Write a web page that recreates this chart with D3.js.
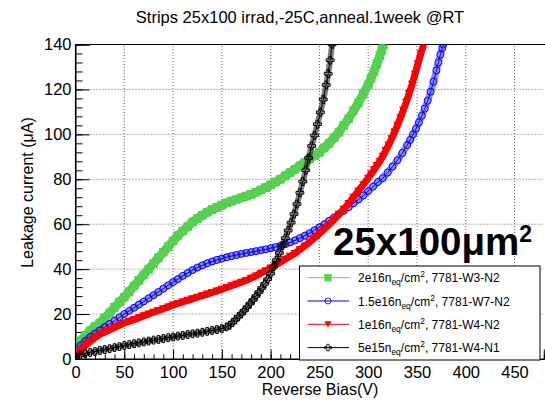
<!DOCTYPE html>
<html>
<head>
<meta charset="utf-8">
<script src="https://cdn.jsdelivr.net/npm/d3@7"></script>
<style>
  body { margin: 0; background: #fff; }
  text { font-family: "Liberation Sans", Arial, sans-serif; }
</style>
</head>
<body>
<div id="chart"></div>
<script>
// Leakage current vs reverse bias, four fluences

const width = 545;
const height = 401;
const margin = {left: 75.5, right: 1.2, top: 44.5, bottom: 42};

// series values: [bias V, current uA]
const green = [[0,4],[5,8],[10,10.5],[15,12.5],[20,14.5],[25,16],[30,18.3],[35,20.5],[40,23],[45,25.3],[50,27.5],[55,30],[60,32.5],[65,35],[70,37.5],[75,40],[80,42.5],[85,45],[90,47.5],[95,50],[100,52.5],[105,55],[110,57],[115,59],[120,61],[125,62.5],[130,64],[135,65.3],[140,66.5],[145,67.5],[150,68.5],[155,69.5],[160,70.3],[165,71],[170,71.8],[175,72.5],[180,73.3],[185,74.2],[190,75.2],[195,76.3],[200,77.5],[205,78.8],[210,80],[215,81.5],[220,83],[225,84.5],[230,86],[235,87.5],[240,89],[245,90.5],[250,92],[255,94],[260,96],[265,98.5],[270,101],[275,104],[280,107],[285,110.5],[290,114],[295,118],[300,122],[303,125],[306,128],[309,131.5],[312,135],[314,137.5],[316,140]];

const blue = [[0,2],[5,6],[10,8],[15,9.8],[20,11.3],[25,12.8],[30,14.2],[35,15.6],[40,17],[45,18.5],[50,20],[55,21.4],[60,22.8],[65,24.2],[70,25.6],[75,27],[80,28.4],[85,29.8],[90,31.3],[95,32.8],[100,34.2],[105,35.6],[110,37],[115,38.3],[120,39.6],[125,40.7],[130,41.7],[135,42.6],[140,43.4],[145,44.1],[150,44.7],[155,45.3],[160,45.8],[165,46.3],[170,46.8],[175,47.2],[180,47.6],[185,48],[190,48.4],[195,48.8],[200,49.3],[205,49.8],[210,50.4],[215,51.1],[220,51.9],[225,52.8],[230,53.8],[235,54.9],[240,56],[245,57.3],[250,58.6],[255,60],[260,61.5],[265,63],[270,64.5],[275,66],[280,67.6],[285,69.3],[290,71],[295,72.8],[300,74.7],[305,76.7],[310,78.8],[315,80.5],[320,83],[325,85.7],[330,88.5],[335,91.7],[340,95.2],[343,97.5],[346,100],[349,102.5],[352,105.3],[355,108.3],[358,111.5],[361,115],[364,119],[367,123.5],[370,128.5],[372,132],[374,135.5],[376,138.5],[377,140]];

const red = [[0,1],[5,4],[10,6],[15,7.8],[20,9.5],[25,11],[30,12],[35,13],[40,14],[45,15],[50,16],[55,16.8],[60,17.6],[65,18.4],[70,19.2],[75,20],[80,20.8],[85,21.6],[90,22.4],[95,23.2],[100,24],[105,24.7],[110,25.4],[115,26.1],[120,26.8],[125,27.5],[130,28.2],[135,28.9],[140,29.6],[145,30.3],[150,31],[155,31.8],[160,32.6],[165,33.4],[170,34.2],[175,35],[180,36],[185,37],[190,38.2],[195,39.3],[200,40.5],[205,41.8],[210,43.1],[215,44.4],[220,45.7],[225,47],[230,48.7],[235,50.3],[240,52],[245,53.9],[250,55.8],[255,57.8],[260,59.8],[265,62],[270,64.4],[275,66.7],[280,69.2],[285,72],[290,74.8],[295,77.6],[300,80.5],[303,82.3],[306,84.2],[309,86.1],[312,88],[315,90.3],[318,92.8],[321,95.3],[324,98],[327,101],[330,104],[333,107.3],[336,110.7],[339,114.3],[342,118.2],[345,122.3],[348,126.8],[351,131.4],[354,136],[357,140]];

const black = [[0,0.5],[5,1.8],[10,2.4],[15,2.9],[20,3.3],[25,3.8],[30,4.2],[35,4.6],[40,5.1],[45,5.5],[50,6],[55,6.4],[60,6.8],[65,7.2],[70,7.6],[75,8],[80,8.4],[85,8.7],[90,9.1],[95,9.5],[100,9.8],[105,10.2],[110,10.5],[115,10.9],[120,11.2],[125,11.5],[130,11.9],[135,12.3],[140,12.7],[145,13.1],[150,13.5],[155,14.3],[158,15],[161,16.2],[164,17.5],[167,18.8],[170,20.2],[173,21.6],[176,23.1],[179,24.7],[182,26.3],[185,28],[188,29.8],[191,31.6],[194,33.5],[197,35.5],[200,38],[203,41],[206,44],[209,47.2],[212,50.5],[215,53.8],[218,57.2],[221,60.7],[224,64.5],[227,69],[230,74],[233,79],[236,84],[239,89.5],[242,94.8],[245,99.5],[248,104.5],[251,109.8],[254,115.5],[257,122],[259,127],[261,133],[263,140]];

const fluences = ["2e16", "1.5e16", "1e16", "5e15"];
const sensors = ["7781-W3-N2", "7781-W7-N2", "7781-W4-N2", "7781-W4-N1"];
const colors = ["#55d04f", "#0000ff", "#ff0000", "#000000"];
const markers = ["square", "circle", "triangle", "cross"];
const series = [green, blue, red, black];
// the dense markers of the original merge into a band
const bandWidth = [9, 7, 7, 6];
const bandOpacity = [1, 0.45, 1, 0.5];

const xTicks = d3.range(0, 451, 50);
const yTicks = d3.range(0, 141, 20);

const svg = d3.select("#chart")
  .append("svg")
  .attr("width", width)
  .attr("height", height);

// scales
const xScale = d3.scaleLinear().domain([0, 480]).range([margin.left, width - margin.right]);
const yScale = d3.scaleLinear().domain([0, 140]).range([height - margin.bottom, margin.top]);

// clip for the plot area
svg.append("clipPath").attr("id", "plotclip")
  .append("rect")
  .attr("x", margin.left).attr("y", margin.top)
  .attr("width", width - margin.right - margin.left)
  .attr("height", height - margin.bottom - margin.top);

// grid
svg.append("g").selectAll("line").data(xTicks.slice(1)).enter().append("line")
  .attr("x1", d => xScale(d)).attr("x2", d => xScale(d))
  .attr("y1", yScale(0)).attr("y2", yScale(140))
  .attr("stroke", "#444").attr("stroke-width", 0.8).attr("stroke-dasharray", "1,2");
svg.append("g").selectAll("line").data(yTicks.slice(1)).enter().append("line")
  .attr("x1", xScale(0)).attr("x2", xScale(480))
  .attr("y1", d => yScale(d)).attr("y2", d => yScale(d))
  .attr("stroke", "#444").attr("stroke-width", 0.8).attr("stroke-dasharray", "1,2");

// top frame line
svg.append("line")
  .attr("x1", xScale(0)).attr("x2", width)
  .attr("y1", yScale(140)).attr("y2", yScale(140))
  .attr("stroke", "#000").attr("stroke-width", 1.2);

// axes (ticks point into the plot)
svg.append("g")
  .attr("transform", `translate(${margin.left},0)`)
  .call(d3.axisLeft(yScale).tickValues(d3.range(0, 141, 4)).tickSize(-7).tickFormat(""))
  .call(g => g.select(".domain").remove());
svg.append("g")
  .attr("transform", `translate(${margin.left},0)`)
  .call(d3.axisLeft(yScale).tickValues(yTicks).tickSize(-14).tickPadding(4))
  .attr("font-size", "16.5px")
  .call(g => g.selectAll("text").attr("font-family", "Liberation Sans, Arial, sans-serif").attr("fill", "#000"));

svg.append("g")
  .attr("transform", `translate(0,${height - margin.bottom})`)
  .call(d3.axisBottom(xScale).tickValues(d3.range(0, 481, 10)).tickSize(-4.7).tickFormat(""))
  .call(g => g.select(".domain").remove());
svg.append("g")
  .attr("transform", `translate(0,${height - margin.bottom})`)
  .call(d3.axisBottom(xScale).tickValues(xTicks).tickSize(-9.5).tickPadding(7))
  .attr("font-size", "16.5px")
  .call(g => g.selectAll("text").attr("font-family", "Liberation Sans, Arial, sans-serif").attr("fill", "#000"));

// marker shapes
function markerPath(kind) {
  if (kind === "square") return "M-4.3,-4.3h8.6v8.6h-8.6z";
  if (kind === "triangle") return "M-4.3,-3.5h8.6l-4.3,7.5z";
  if (kind === "circle") return "M3.5,0A3.5,3.5,0,1,1,-3.5,0A3.5,3.5,0,1,1,3.5,0";
  return "M-1.3,-3.9h2.6v2.6h2.6v2.6h-2.6v2.6h-2.6v-2.6h-2.6v-2.6h2.6z";
}
function markerFill(kind, color) {
  return (kind === "circle" || kind === "cross") ? "none" : color;
}

const line = d3.line().x(d => xScale(d[0])).y(d => yScale(d[1]));

const plot = svg.append("g").attr("clip-path", "url(#plotclip)");
series.forEach((data, i) => {
  const g = plot.append("g");
  g.append("path")
    .datum(data)
    .attr("d", line)
    .attr("fill", "none")
    .attr("stroke", colors[i])
    .attr("stroke-opacity", bandOpacity[i])
    .attr("stroke-linejoin", "round")
    .attr("stroke-width", bandWidth[i]);
  g.append("path")
    .datum(data)
    .attr("d", line)
    .attr("fill", "none")
    .attr("stroke", colors[i])
    .attr("stroke-width", 1);
  g.selectAll(".pt")
    .data(data)
    .enter()
    .append("path")
      .attr("class", "pt")
      .attr("transform", d => `translate(${xScale(d[0])},${yScale(d[1])})`)
      .attr("d", markerPath(markers[i]))
      .attr("fill", markerFill(markers[i], colors[i]))
      .attr("stroke", colors[i])
      .attr("stroke-width", markers[i] === "circle" || markers[i] === "cross" ? 1 : 0);
});

// axis lines on top
svg.append("line")
  .attr("x1", margin.left).attr("x2", margin.left)
  .attr("y1", yScale(0)).attr("y2", yScale(140))
  .attr("stroke", "#000").attr("stroke-width", 1.2);
svg.append("line")
  .attr("x1", margin.left).attr("x2", width)
  .attr("y1", yScale(0)).attr("y2", yScale(0))
  .attr("stroke", "#000").attr("stroke-width", 1.2);

// titles
svg.append("text")
  .attr("x", 300).attr("y", 23)
  .attr("text-anchor", "middle")
  .attr("font-size", "16.5px")
  .text("Strips 25x100 irrad,-25C,anneal.1week @RT");

svg.append("text")
  .attr("transform", "translate(33,192.5) rotate(-90)")
  .attr("text-anchor", "middle")
  .attr("font-size", "16px")
  .text("Leakage current (\u03bcA)");

svg.append("text")
  .attr("x", 320).attr("y", 395)
  .attr("text-anchor", "middle")
  .attr("font-size", "16px")
  .text("Reverse Bias(V)");

// big label
const big = svg.append("text")
  .attr("x", 333).attr("y", 255)
  .attr("font-family", "Open Sans, sans-serif")
  .attr("font-weight", "bold")
  .attr("font-size", "38.5px")
  .attr("fill", "#000");
big.append("tspan").text("25x100\u03bcm");
big.append("tspan").attr("font-size", "23px").attr("dy", -13).text("2");

// legend
const legend = svg.append("g");
legend.append("rect")
  .attr("x", 299.5).attr("y", 266)
  .attr("width", 240.5).attr("height", 94)
  .attr("fill", "#fff").attr("stroke", "#000").attr("stroke-width", 1);

fluences.forEach((f, i) => {
  const cy = 277.7 + i * 23.3;
  legend.append("line")
    .attr("x1", 307.5).attr("x2", 349)
    .attr("y1", cy).attr("y2", cy)
    .attr("stroke", colors[i]).attr("stroke-width", 1);
  legend.append("path")
    .attr("transform", `translate(328,${cy}) scale(0.85)`)
    .attr("d", markerPath(markers[i]))
    .attr("fill", markerFill(markers[i], colors[i]))
    .attr("stroke", colors[i])
    .attr("stroke-width", markers[i] === "circle" || markers[i] === "cross" ? 1 : 0);
  const t = legend.append("text")
    .attr("x", 358).attr("y", cy + 4.5)
    .attr("font-size", "12px");
  t.append("tspan").text(f + "n");
  t.append("tspan").attr("font-size", "8.5px").attr("dy", 3).text("eq");
  t.append("tspan").attr("dy", -3).text("/cm");
  t.append("tspan").attr("font-size", "8.5px").attr("dy", -5).text("2");
  t.append("tspan").attr("dy", 5).text(", " + sensors[i]);
});
</script>
</body>
</html>
